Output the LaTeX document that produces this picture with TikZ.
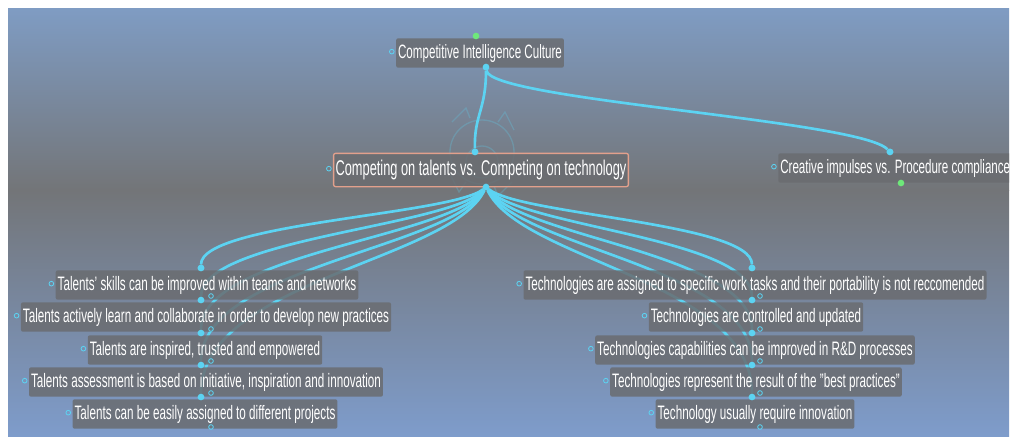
\documentclass[tikz,border=0pt]{standalone}
\usepackage{fontspec}
\setmainfont[FakeStretch=0.6]{Liberation Sans}
\usetikzlibrary{positioning}

\definecolor{bgtop}{HTML}{7F9CC3}
\definecolor{bgmid}{HTML}{737578}
\definecolor{bgbot}{HTML}{7E9CCB}
\definecolor{boxgrey}{HTML}{6A6C70}
\definecolor{linkcyan}{HTML}{5CD3F2}
\definecolor{edgesalmon}{HTML}{E2A08C}
\definecolor{dotgreen}{HTML}{6EE87A}

\begin{document}
\begin{tikzpicture}[x=0.75pt, y=-0.75pt,
    topic/.style = {fill=boxgrey, fill opacity=0.85, text opacity=1, text=white, rounded corners=1.5pt, inner xsep=1.5pt, inner ysep=0pt, minimum height=22pt, font=\fontsize{14.6}{16}\selectfont},
    bigtopic/.style = {topic, font=\fontsize{14.5}{16}\selectfont},
    link/.style = {draw=linkcyan, line width=2pt},
    dot/.style = {circle, fill=linkcyan, inner sep=0pt, minimum size=5pt},
    gdot/.style = {circle, fill=dotgreen, inner sep=0pt, minimum size=5pt},
    ring/.style = {circle, draw=linkcyan, line width=0.6pt, inner sep=0pt, minimum size=3.5pt}]

    \useasboundingbox (0,0) rectangle (1011,437);
    \clip (0,0) rectangle (1009,437);
    \fill[white] (0,0) rectangle (1011,437);
    \shade[top color=bgtop, bottom color=bgmid] (8,8) rectangle (1009,190);
    \shade[top color=bgmid, bottom color=bgbot] (8,190) rectangle (1009,436);

    % ikona za osrednjim vozliscem
    \begin{scope}[draw=linkcyan, opacity=0.25, line width=1pt]
        \draw (482,162) circle (16);
        \draw (482,152) circle (32);
        \draw (452,122) -- (466,108) -- (470,118);
        \draw (512,182) -- (498,196) -- (494,186);
        \draw (514,130) -- (505,112) -- (498,122);
        \draw (450,174) -- (459,192) -- (466,182);
    \end{scope}

    % sidra povezav
    \node[dot] (rootout) at (486,67) {};
    \node[dot] (midin) at (475,152) {};
    \node[dot] (midout) at (486,187) {};
    \node[dot] (crein) at (890,152) {};

    \node[dot] (tal1in) at (201,268) {};
    \node[dot] (tal2in) at (201,300) {};
    \node[dot] (tal3in) at (201,333) {};
    \node[dot] (tal4in) at (201,365) {};
    \node[dot] (tal5in) at (201,397) {};
    \node[dot] (tech1in) at (752,268) {};
    \node[dot] (tech2in) at (752,300) {};
    \node[dot] (tech3in) at (752,333) {};
    \node[dot] (tech4in) at (752,365) {};
    \node[dot] (tech5in) at (752,397) {};

    % povezave
    \draw[link] (rootout) .. controls (486,110) and (474,115) .. (midin);
    \draw[link] (rootout) .. controls (490,100) and (860,120) .. (crein);

    \draw[link] (midout) .. controls (451,215) and (201,223) .. (tal1in);
    \draw[link] (midout) .. controls (451,227) and (201,238) .. (tal2in);
    \draw[link] (midout) .. controls (451,238) and (201,253) .. (tal3in);
    \draw[link] (midout) .. controls (451,249) and (201,267) .. (tal4in);
    \draw[link] (midout) .. controls (451,261) and (201,281) .. (tal5in);
    \draw[link] (midout) .. controls (521,215) and (752,223) .. (tech1in);
    \draw[link] (midout) .. controls (521,227) and (752,238) .. (tech2in);
    \draw[link] (midout) .. controls (521,238) and (752,253) .. (tech3in);
    \draw[link] (midout) .. controls (521,249) and (752,267) .. (tech4in);
    \draw[link] (midout) .. controls (521,261) and (752,281) .. (tech5in);

    % vozlisca
    \node[bigtopic] (root) at (480,53) {Competitive Intelligence Culture};
    \node[bigtopic, draw=edgesalmon, line width=1pt, font=\fontsize{16}{18}\selectfont, minimum height=25pt] (mid) at (481,170) {Competing on talents vs. Competing on technology};
    \node[bigtopic, anchor=west] (cre) at (778,168) {Creative impulses vs. Procedure compliance};

    \node[topic] (tal1) at (207,285) {Talents' skills can be improved within teams and networks};
    \node[topic] (tal2) at (206,317) {Talents actively learn and collaborate in order to develop new practices};
    \node[topic] (tal3) at (205,350) {Talents are inspired, trusted and empowered};
    \node[topic] (tal4) at (206,382) {Talents assessment is based on initiative, inspiration and innovation};
    \node[topic] (tal5) at (205,414) {Talents can be easily assigned to different projects};

    \node[topic] (tech1) at (755,285) {Technologies are assigned to specific work tasks and their portability is not reccomended};
    \node[topic] (tech2) at (756,317) {Technologies are controlled and updated};
    \node[topic] (tech3) at (755,350) {Technologies capabilities can be improved in R\&D processes};
    \node[topic] (tech4) at (756,382) {Technologies represent the result of the "best practices"};
    \node[topic] (tech5) at (755,414) {Technology usually require innovation};

    % obroci levo od besedila
    \foreach \n in {root,mid,cre,tal1,tal2,tal3,tal4,tal5,tech1,tech2,tech3,tech4,tech5}
        \node[ring, left=1pt of \n.west, yshift=1pt] {};

    % spodnji obroci in zelene tocke
    \node[ring] (tal1out) at (211,296) {};
    \node[ring] (tal2out) at (211,329) {};
    \node[ring] (tal3out) at (211,361) {};
    \node[ring] (tal4out) at (211,393) {};
    \node[ring] (tal5out) at (211,427) {};
    \node[ring] (tech1out) at (760,296) {};
    \node[ring] (tech2out) at (760,329) {};
    \node[ring] (tech3out) at (760,361) {};
    \node[ring] (tech4out) at (760,393) {};
    \node[ring] (tech5out) at (760,427) {};
    \node[gdot] (rootin) at (476,36) {};
    \node[gdot] (creout) at (901,183) {};

    % tocke nad besedilom
    \node[dot] at (rootout) {};
    \node[dot] at (midin) {};
    \node[dot] at (midout) {};
    \node[dot] at (crein) {};
    \foreach \n in {tal1in,tal2in,tal3in,tal4in,tal5in,tech1in,tech2in,tech3in,tech4in,tech5in}
        \node[dot] at (\n) {};

\end{tikzpicture}
\end{document}
